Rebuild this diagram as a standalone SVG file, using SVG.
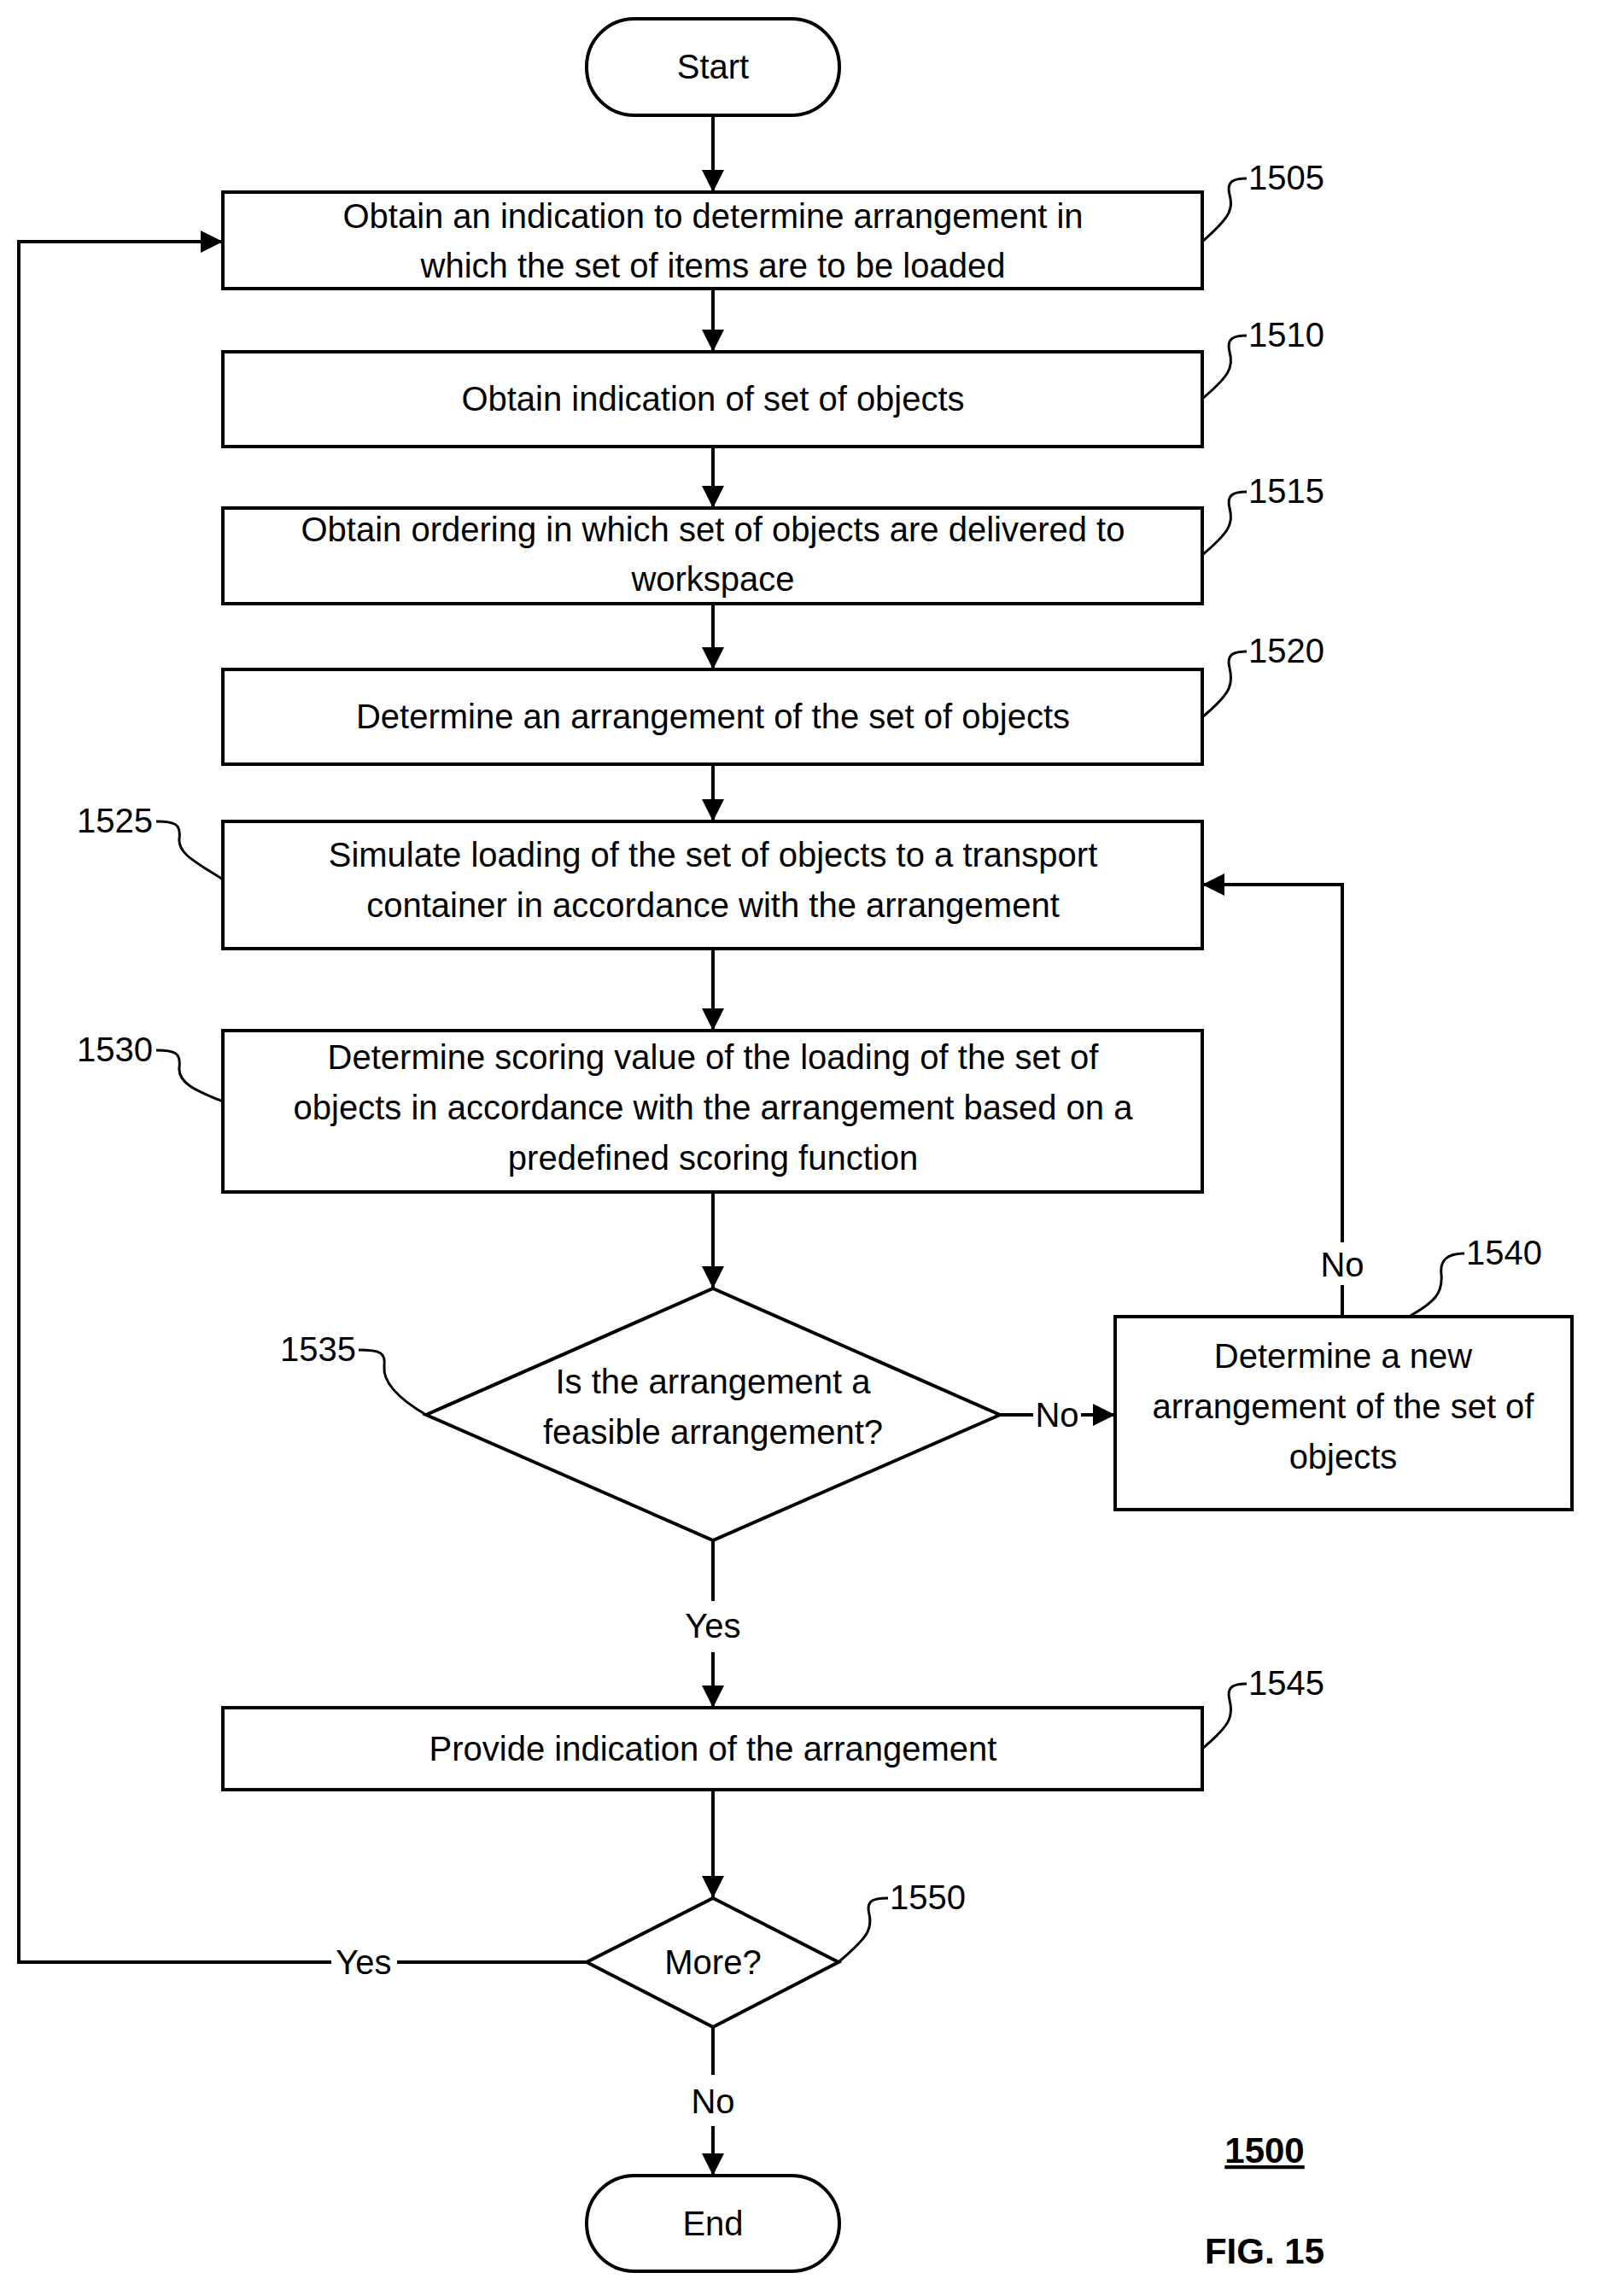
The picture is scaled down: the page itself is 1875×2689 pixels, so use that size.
<svg xmlns="http://www.w3.org/2000/svg" width="1875" height="2689" viewBox="0 0 1875 2689">
<style>
.b{fill:#fff;stroke:#000;stroke-width:4}
.t{font-family:"Liberation Sans",Arial,sans-serif;font-size:40px;text-anchor:middle;fill:#000}
.n{font-family:"Liberation Sans",Arial,sans-serif;font-size:40px;fill:#000}
.c{fill:none;stroke:#000;stroke-width:4}
.l{fill:none;stroke:#000;stroke-width:3}
</style>
<defs><marker id="a" markerWidth="10" markerHeight="10" refX="9" refY="5" orient="auto" markerUnits="userSpaceOnUse" viewBox="0 0 10 10"><path d="M0,0L10,5L0,10z" transform="scale(1)"/></marker>
<marker id="A" viewBox="0 0 10 10" refX="10" refY="5" markerWidth="26" markerHeight="26" markerUnits="userSpaceOnUse" orient="auto"><path d="M0,0L10,5L0,10z"/></marker></defs>
<g id="connectors">
<path class="c" d="M835,135V225" marker-end="url(#A)"/>
<path class="c" d="M835,338V412" marker-end="url(#A)"/>
<path class="c" d="M835,523V595" marker-end="url(#A)"/>
<path class="c" d="M835,707V784" marker-end="url(#A)"/>
<path class="c" d="M835,895V962" marker-end="url(#A)"/>
<path class="c" d="M835,1111V1207" marker-end="url(#A)"/>
<path class="c" d="M835,1396V1509" marker-end="url(#A)"/>
<path class="c" d="M1171,1657H1210"/>
<path class="c" d="M1266,1657H1306" marker-end="url(#A)"/>
<path class="c" d="M1572,1542V1505"/>
<path class="c" d="M1572,1455V1036H1408" marker-end="url(#A)"/>
<path class="c" d="M835,1804V1875"/>
<path class="c" d="M835,1935V2000" marker-end="url(#A)"/>
<path class="c" d="M835,2096V2223" marker-end="url(#A)"/>
<path class="c" d="M687,2298H465"/>
<path class="c" d="M388,2298H22V283H261" marker-end="url(#A)"/>
<path class="c" d="M835,2374V2430"/>
<path class="c" d="M835,2490V2548" marker-end="url(#A)"/>
<text class="t" x="1572" y="1495">No</text>
<text class="t" x="1238" y="1671">No</text>
<text class="t" x="835" y="1918">Yes</text>
<text class="t" x="426" y="2312">Yes</text>
<text class="t" x="835" y="2475">No</text>
</g>
<g id="start"><rect class="b" x="687" y="22" width="296" height="113" rx="56"/><text class="t" x="835" y="92">Start</text></g>
<g id="n1505"><rect class="b" x="261" y="225" width="1147" height="113"/><text class="t" x="835" y="267">Obtain an indication to determine arrangement in</text><text class="t" x="835" y="325">which the set of items are to be loaded</text>
<path class="l" d="M1408,283C1440,255 1445,245 1440,228C1436,212 1445,209 1460,209"/><text class="n" x="1462" y="222">1505</text></g>
<g id="n1510"><rect class="b" x="261" y="412" width="1147" height="111"/><text class="t" x="835" y="481">Obtain indication of set of objects</text>
<path class="l" d="M1408,467C1440,440 1445,430 1440,412C1436,396 1445,393 1460,393"/><text class="n" x="1462" y="406">1510</text></g>
<g id="n1515"><rect class="b" x="261" y="595" width="1147" height="112"/><text class="t" x="835" y="634">Obtain ordering in which set of objects are delivered to</text><text class="t" x="835" y="692">workspace</text>
<path class="l" d="M1408,650C1440,623 1445,613 1440,595C1436,579 1445,576 1460,576"/><text class="n" x="1462" y="589">1515</text></g>
<g id="n1520"><rect class="b" x="261" y="784" width="1147" height="111"/><text class="t" x="835" y="853">Determine an arrangement of the set of objects</text>
<path class="l" d="M1408,840C1440,813 1445,803 1440,782C1436,766 1445,763 1460,763"/><text class="n" x="1462" y="776">1520</text></g>
<g id="n1525"><rect class="b" x="261" y="962" width="1147" height="149"/><text class="t" x="835" y="1015">Simulate loading of the set of objects to a transport</text><text class="t" x="835" y="1074">container in accordance with the arrangement</text>
<text class="n" x="90" y="975">1525</text><path class="l" d="M183,962C205,962 212,965 210,982C208,1000 230,1010 261,1030"/></g>
<g id="n1530"><rect class="b" x="261" y="1207" width="1147" height="189"/><text class="t" x="835" y="1252">Determine scoring value of the loading of the set of</text><text class="t" x="835" y="1311">objects in accordance with the arrangement based on a</text><text class="t" x="835" y="1370">predefined scoring function</text>
<text class="n" x="90" y="1243">1530</text><path class="l" d="M183,1230C205,1230 212,1233 210,1250C208,1268 230,1278 261,1290"/></g>
<g id="n1535"><polygon class="b" points="835,1509 1171,1657 835,1804 499,1657"/><text class="t" x="835" y="1632">Is the  arrangement a</text><text class="t" x="835" y="1691">feasible arrangement?</text>
<text class="n" x="328" y="1594">1535</text><path class="l" d="M420,1581C445,1581 452,1584 450,1600C448,1620 470,1640 499,1657"/></g>
<g id="n1540"><rect class="b" x="1306" y="1542" width="535" height="226"/><text class="t" x="1573" y="1602">Determine a new</text><text class="t" x="1573" y="1661">arrangement of the set of</text><text class="t" x="1573" y="1720">objects</text>
<path class="l" d="M1650,1542C1680,1525 1690,1515 1688,1492C1686,1476 1695,1468 1715,1468"/><text class="n" x="1717" y="1481">1540</text></g>
<g id="n1545"><rect class="b" x="261" y="2000" width="1147" height="96"/><text class="t" x="835" y="2062">Provide indication of the arrangement</text>
<path class="l" d="M1408,2048C1440,2021 1445,2011 1440,1991C1436,1975 1445,1972 1460,1972"/><text class="n" x="1462" y="1985">1545</text></g>
<g id="n1550"><polygon class="b" points="835,2223 982,2298 835,2374 687,2298"/><text class="t" x="835" y="2312">More?</text>
<path class="l" d="M982,2298C1015,2270 1022,2260 1018,2242C1014,2226 1022,2223 1040,2223"/><text class="n" x="1042" y="2236">1550</text></g>
<g id="end"><rect class="b" x="687" y="2548" width="296" height="112" rx="56"/><text class="t" x="835" y="2618">End</text></g>
<text x="1481" y="2533" style="font-family:'Liberation Sans',Arial,sans-serif;font-size:42px;font-weight:bold;text-anchor:middle;text-decoration:underline">1500</text>
<text x="1481" y="2651" style="font-family:'Liberation Sans',Arial,sans-serif;font-size:42px;font-weight:bold;text-anchor:middle">FIG. 15</text>
</svg>
